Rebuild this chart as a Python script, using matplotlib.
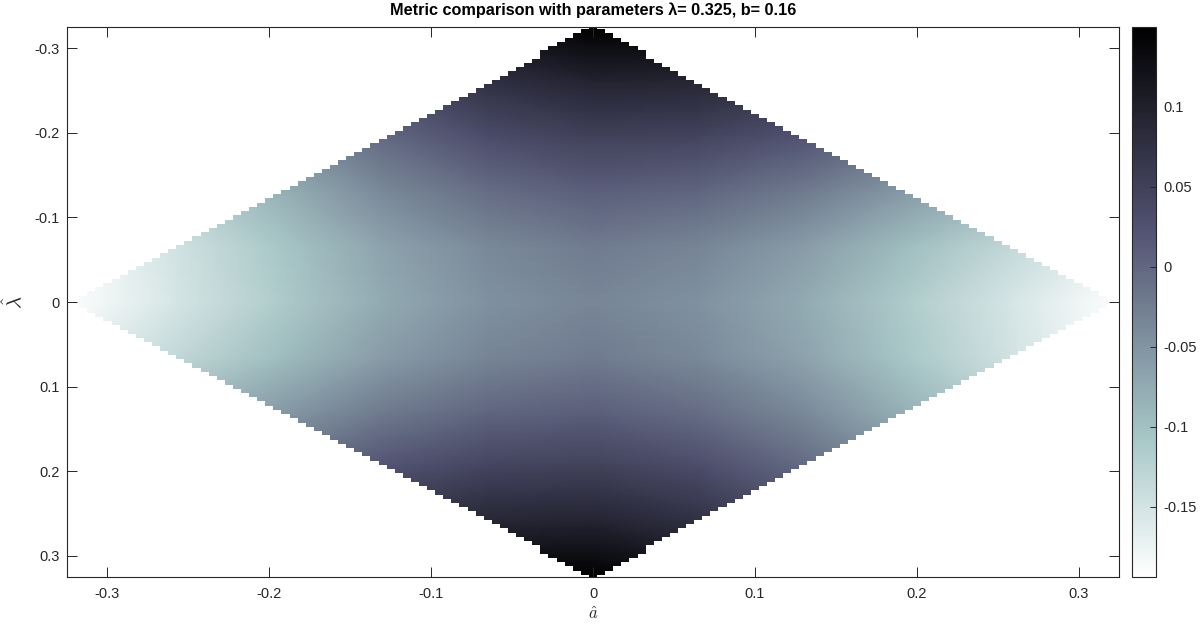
import numpy as np
import matplotlib
matplotlib.use('Agg')
import matplotlib.pyplot as plt
from matplotlib.colors import Normalize, ListedColormap

plt.rcParams['font.family'] = ['Liberation Sans', 'DejaVu Sans']
plt.rcParams['mathtext.fontset'] = 'cm'
plt.rcParams['axes.unicode_minus'] = False

# coarse samples of the metric (rows: lambda, cols: a)
a_nodes = [-0.325, -0.26, -0.195, -0.13, -0.065, 0.0, 0.065, 0.13, 0.195, 0.26, 0.325]
lam_nodes = [-0.325, -0.26, -0.195, -0.13, -0.065, 0.0, 0.065, 0.13, 0.195, 0.26, 0.325]
metric = [
    [-0.063, -0.012, 0.038, 0.089, 0.127, 0.150, 0.149, 0.131, 0.102, 0.072, 0.043],
    [-0.107, -0.059, -0.010, 0.038, 0.075, 0.095, 0.091, 0.072, 0.040, 0.009, -0.023],
    [-0.142, -0.095, -0.049, -0.003, 0.032, 0.050, 0.044, 0.023, -0.011, -0.045, -0.078],
    [-0.171, -0.127, -0.083, -0.038, -0.006, 0.010, 0.002, -0.022, -0.057, -0.093, -0.129],
    [-0.194, -0.151, -0.109, -0.067, -0.037, -0.023, -0.033, -0.059, -0.097, -0.135, -0.172],
    [-0.195, -0.155, -0.115, -0.075, -0.047, -0.035, -0.047, -0.075, -0.115, -0.155, -0.195],
    [-0.172, -0.135, -0.097, -0.059, -0.033, -0.023, -0.037, -0.067, -0.109, -0.151, -0.194],
    [-0.129, -0.093, -0.057, -0.022, 0.002, 0.010, -0.006, -0.038, -0.083, -0.127, -0.171],
    [-0.078, -0.045, -0.011, 0.023, 0.044, 0.050, 0.032, -0.003, -0.049, -0.095, -0.142],
    [-0.023, 0.009, 0.040, 0.072, 0.091, 0.095, 0.075, 0.038, -0.010, -0.059, -0.107],
    [0.043, 0.072, 0.102, 0.131, 0.149, 0.150, 0.127, 0.089, 0.038, -0.012, -0.063],
]
color_limits = (-0.194, 0.15)
x_ticks = [-0.3, -0.2, -0.1, 0, 0.1, 0.2, 0.3]
y_ticks = [-0.3, -0.2, -0.1, 0, 0.1, 0.2, 0.3]
cbar_ticks = [-0.15, -0.1, -0.05, 0, 0.05, 0.1]

# diamond shaped valid region on a 0.005 grid
a_extent = 0.3205
lam_extent = 0.3255
centers = np.linspace(-0.325, 0.325, 131)
edges = np.linspace(-0.3275, 0.3275, 132)
ac, lc = np.meshgrid(centers, centers)
inside = np.abs(ac) / a_extent + np.abs(lc) / lam_extent <= 1 + 1e-9

fig = plt.figure(figsize=(12.01, 6.24), dpi=100)
ax = fig.add_axes([67 / 1201, 47 / 624, 1052 / 1201, 550 / 624])
cax = fig.add_axes([1132 / 1201, 47 / 624, 24 / 1201, 550 / 624])

norm = Normalize(*color_limits)
A, L = np.meshgrid(a_nodes, lam_nodes)
mesh = ax.pcolormesh(A, L, np.array(metric), shading='gouraud', cmap='bone_r', norm=norm)
outside = np.ma.masked_where(inside, np.ones_like(ac))
ax.pcolormesh(edges, edges, outside, cmap=ListedColormap(['white']), shading='flat')

ax.set_xlim(-0.325, 0.325)
ax.set_ylim(0.325, -0.325)
ax.set_xticks(x_ticks)
ax.set_yticks(y_ticks)
ax.set_xticklabels([f'{t:g}' for t in x_ticks])
ax.set_yticklabels([f'{t:g}' for t in y_ticks])
edge_col = '#262626'
ax.tick_params(direction='in', length=7, width=0.7, top=True, right=True,
               colors=edge_col, labelsize=10.5)
ax.tick_params(axis='x', pad=7)
ax.tick_params(axis='y', pad=5)
for s in ax.spines.values():
    s.set_color(edge_col)
    s.set_linewidth(0.8)

ax.set_xlabel(r'$\hat{a}$', fontsize=12, labelpad=3, color=edge_col)
ax.set_ylabel(r'$\hat{\lambda}$', fontsize=15, labelpad=6, color=edge_col)
ax.set_title('Metric comparison with parameters λ= 0.325, b= 0.16',
             fontsize=11.7, fontweight='bold', pad=9)

cb = fig.colorbar(mesh, cax=cax)
cb.set_ticks(cbar_ticks)
cb.set_ticklabels([f'{t:g}' for t in cbar_ticks])
cb.outline.set_edgecolor(edge_col)
cb.outline.set_linewidth(0.8)
cax.tick_params(direction='in', length=4, width=0.7, colors=edge_col,
                labelsize=10.5, pad=5)

fig.savefig('out.png', dpi=100)
